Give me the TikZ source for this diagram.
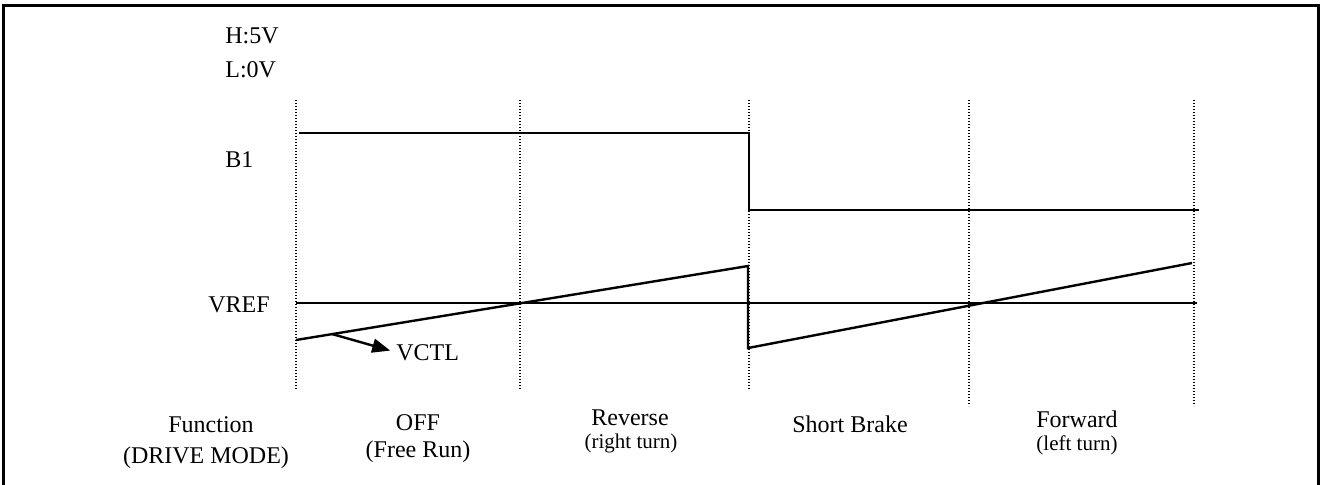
\documentclass[tikz,border=0pt]{standalone}
\usepackage{fontspec}
\setmainfont{Liberation Serif}
\usepackage{tikz}
\usetikzlibrary{positioning,calc,arrows.meta}

\begin{document}
\begin{tikzpicture}[x=0.5pt,y=-0.5pt]
			\begingroup
			\tikzset{
				lbl/.style={inner sep=0pt,font=\fontsize{12}{14}\selectfont},
				sublbl/.style={inner sep=0pt,font=\fontsize{10.5}{12}\selectfont},
				wave/.style={line width=1.2pt},
				grid/.style={line width=0.6pt,dash pattern=on 0.6pt off 0.9pt},
				ptr/.style={line width=1.2pt,-{Triangle[length=9pt,width=7pt]}}
			}
			\useasboundingbox (0,0) rectangle (1320,484);
			\draw[line width=1.1pt] (3.5,5.5) rectangle (1318.5,492);
			
			% level labels
			\node[lbl, anchor=base west] (h5v) at (225, 43) {H:5V};
			\node[lbl, anchor=base west] (l0v) at (225, 77) {L:0V};
			\node[lbl, anchor=base west] (b1) at (225, 167) {B1};
			\node[lbl, anchor=base west] (vref) at (208, 312) {VREF};
			\node[lbl, anchor=base west] (vctl) at (396, 360) {VCTL};
			
			% dotted section borders
			\draw[grid] (296, 100) -- (296, 390);
			\draw[grid] (520, 100) -- (520, 390);
			\draw[grid] (749, 100) -- (749, 390);
			\draw[grid] (969, 100) -- (969, 406);
			\draw[grid] (1194, 100) -- (1194, 406);
			
			% B1
			\draw[wave] (299, 133) -- (749, 133) -- (749, 210) -- (1199, 210);
			% VREF
			\draw[wave] (296, 303) -- (1197, 303);
			% VCTL
			\draw[wave] (296, 340) -- (748, 266) -- (748, 348) -- (1192, 263);
			
			\coordinate (vtap) at (332, 334);
			\draw[ptr, shorten >=3pt] (vtap) -- (vctl.west);
			
			% drive modes
			\node[lbl, anchor=base] (fn) at (211, 432) {Function};
			\node[lbl, anchor=base] (fnmode) at (206, 463) {(DRIVE MODE)};
			\node[lbl, anchor=base] (off) at (418, 430) {OFF};
			\node[lbl, anchor=base] (offrun) at (418, 457) {(Free Run)};
			\node[lbl, anchor=base] (rev) at (630, 425) {Reverse};
			\node[sublbl, anchor=base] (revturn) at (631, 448) {(right turn)};
			\node[lbl, anchor=base] (brake) at (850, 432) {Short Brake};
			\node[lbl, anchor=base] (fwd) at (1077, 427) {Forward};
			\node[sublbl, anchor=base] (fwdturn) at (1077, 450) {(left turn)};
			
			\endgroup
\end{tikzpicture}
\end{document}
